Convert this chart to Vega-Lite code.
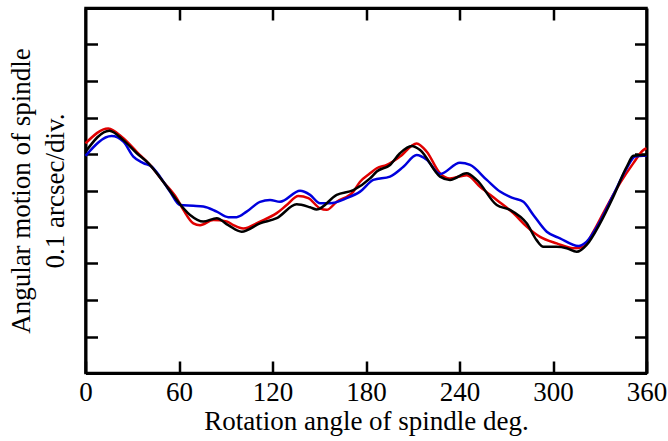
{
  "$schema": "https://vega.github.io/schema/vega-lite/v6.json",
  "width": 561,
  "height": 365,
  "autosize": {"type": "none"},
  "padding": {"left": 85.5, "top": 8, "right": 21.5, "bottom": 68},
  "background": "white",
  "config": {
    "view": {"stroke": "black", "strokeWidth": 2.5},
    "font": "Liberation Serif",
    "axis": {
      "grid": false,
      "domainColor": "black",
      "domainWidth": 3,
      "tickColor": "black",
      "tickWidth": 2.5,
      "tickSize": -12,
      "labelFont": "Liberation Serif",
      "labelFontSize": 27,
      "labelColor": "black",
      "titleFont": "Liberation Serif",
      "titleFontSize": 27,
      "titleFontWeight": "normal",
      "titleColor": "black"
    }
  },
  "data": {"values": [
    {"deg": 0, "v": 6.29, "s": "red"},
    {"deg": 14.6, "v": 6.70, "s": "red"},
    {"deg": 24.3, "v": 6.43, "s": "red"},
    {"deg": 32.9, "v": 6.06, "s": "red"},
    {"deg": 41.4, "v": 5.70, "s": "red"},
    {"deg": 49.9, "v": 5.24, "s": "red"},
    {"deg": 58.5, "v": 4.79, "s": "red"},
    {"deg": 62.8, "v": 4.47, "s": "red"},
    {"deg": 69.2, "v": 4.10, "s": "red"},
    {"deg": 73.5, "v": 4.05, "s": "red"},
    {"deg": 82.0, "v": 4.19, "s": "red"},
    {"deg": 90.6, "v": 4.15, "s": "red"},
    {"deg": 94.9, "v": 4.05, "s": "red"},
    {"deg": 101.3, "v": 3.96, "s": "red"},
    {"deg": 112.0, "v": 4.15, "s": "red"},
    {"deg": 122.7, "v": 4.38, "s": "red"},
    {"deg": 129.1, "v": 4.60, "s": "red"},
    {"deg": 136.6, "v": 4.85, "s": "red"},
    {"deg": 143.0, "v": 4.79, "s": "red"},
    {"deg": 150.5, "v": 4.51, "s": "red"},
    {"deg": 154.8, "v": 4.47, "s": "red"},
    {"deg": 161.2, "v": 4.69, "s": "red"},
    {"deg": 171.9, "v": 4.97, "s": "red"},
    {"deg": 176.2, "v": 5.24, "s": "red"},
    {"deg": 182.6, "v": 5.47, "s": "red"},
    {"deg": 186.9, "v": 5.61, "s": "red"},
    {"deg": 193.3, "v": 5.70, "s": "red"},
    {"deg": 201.8, "v": 5.93, "s": "red"},
    {"deg": 212.5, "v": 6.29, "s": "red"},
    {"deg": 219.0, "v": 6.06, "s": "red"},
    {"deg": 227.5, "v": 5.47, "s": "red"},
    {"deg": 233.9, "v": 5.33, "s": "red"},
    {"deg": 244.6, "v": 5.42, "s": "red"},
    {"deg": 253.2, "v": 5.10, "s": "red"},
    {"deg": 263.9, "v": 4.74, "s": "red"},
    {"deg": 274.5, "v": 4.38, "s": "red"},
    {"deg": 283.1, "v": 4.01, "s": "red"},
    {"deg": 291.7, "v": 3.73, "s": "red"},
    {"deg": 302.4, "v": 3.55, "s": "red"},
    {"deg": 313.0, "v": 3.42, "s": "red"},
    {"deg": 319.5, "v": 3.46, "s": "red"},
    {"deg": 325.9, "v": 3.87, "s": "red"},
    {"deg": 334.5, "v": 4.56, "s": "red"},
    {"deg": 343.0, "v": 5.20, "s": "red"},
    {"deg": 351.6, "v": 5.75, "s": "red"},
    {"deg": 358.0, "v": 6.11, "s": "red"},
    {"deg": 360, "v": 6.16, "s": "red"},

    {"deg": 0, "v": 5.95, "s": "blue"},
    {"deg": 16.8, "v": 6.49, "s": "blue"},
    {"deg": 24.3, "v": 6.34, "s": "blue"},
    {"deg": 30.7, "v": 5.93, "s": "blue"},
    {"deg": 37.1, "v": 5.75, "s": "blue"},
    {"deg": 42.5, "v": 5.65, "s": "blue"},
    {"deg": 47.8, "v": 5.38, "s": "blue"},
    {"deg": 54.2, "v": 4.97, "s": "blue"},
    {"deg": 60.6, "v": 4.60, "s": "blue"},
    {"deg": 69.2, "v": 4.58, "s": "blue"},
    {"deg": 75.6, "v": 4.56, "s": "blue"},
    {"deg": 84.2, "v": 4.42, "s": "blue"},
    {"deg": 91.6, "v": 4.27, "s": "blue"},
    {"deg": 97.0, "v": 4.27, "s": "blue"},
    {"deg": 103.4, "v": 4.42, "s": "blue"},
    {"deg": 112.0, "v": 4.69, "s": "blue"},
    {"deg": 118.4, "v": 4.74, "s": "blue"},
    {"deg": 124.8, "v": 4.69, "s": "blue"},
    {"deg": 137.7, "v": 4.99, "s": "blue"},
    {"deg": 144.1, "v": 4.88, "s": "blue"},
    {"deg": 150.5, "v": 4.65, "s": "blue"},
    {"deg": 156.9, "v": 4.65, "s": "blue"},
    {"deg": 167.6, "v": 4.79, "s": "blue"},
    {"deg": 176.2, "v": 4.97, "s": "blue"},
    {"deg": 184.7, "v": 5.29, "s": "blue"},
    {"deg": 195.4, "v": 5.38, "s": "blue"},
    {"deg": 204.0, "v": 5.65, "s": "blue"},
    {"deg": 212.5, "v": 5.97, "s": "blue"},
    {"deg": 219.0, "v": 5.84, "s": "blue"},
    {"deg": 227.5, "v": 5.45, "s": "blue"},
    {"deg": 240.3, "v": 5.76, "s": "blue"},
    {"deg": 246.8, "v": 5.70, "s": "blue"},
    {"deg": 257.5, "v": 5.29, "s": "blue"},
    {"deg": 266.0, "v": 4.97, "s": "blue"},
    {"deg": 274.5, "v": 4.79, "s": "blue"},
    {"deg": 281.0, "v": 4.69, "s": "blue"},
    {"deg": 287.4, "v": 4.33, "s": "blue"},
    {"deg": 296.0, "v": 3.87, "s": "blue"},
    {"deg": 304.5, "v": 3.69, "s": "blue"},
    {"deg": 316.3, "v": 3.48, "s": "blue"},
    {"deg": 321.6, "v": 3.60, "s": "blue"},
    {"deg": 330.2, "v": 4.15, "s": "blue"},
    {"deg": 338.7, "v": 4.88, "s": "blue"},
    {"deg": 347.3, "v": 5.61, "s": "blue"},
    {"deg": 352.7, "v": 5.93, "s": "blue"},
    {"deg": 358.0, "v": 5.95, "s": "blue"},
    {"deg": 360, "v": 5.95, "s": "blue"},

    {"deg": 0, "v": 6.06, "s": "black"},
    {"deg": 15.3, "v": 6.64, "s": "black"},
    {"deg": 24.3, "v": 6.38, "s": "black"},
    {"deg": 32.9, "v": 6.02, "s": "black"},
    {"deg": 40.3, "v": 5.75, "s": "black"},
    {"deg": 49.9, "v": 5.24, "s": "black"},
    {"deg": 58.5, "v": 4.74, "s": "black"},
    {"deg": 67.1, "v": 4.33, "s": "black"},
    {"deg": 75.6, "v": 4.15, "s": "black"},
    {"deg": 84.2, "v": 4.24, "s": "black"},
    {"deg": 91.6, "v": 4.05, "s": "black"},
    {"deg": 100.2, "v": 3.87, "s": "black"},
    {"deg": 112.0, "v": 4.10, "s": "black"},
    {"deg": 122.7, "v": 4.24, "s": "black"},
    {"deg": 135.5, "v": 4.62, "s": "black"},
    {"deg": 144.1, "v": 4.54, "s": "black"},
    {"deg": 148.4, "v": 4.48, "s": "black"},
    {"deg": 161.2, "v": 4.88, "s": "black"},
    {"deg": 171.9, "v": 5.01, "s": "black"},
    {"deg": 182.6, "v": 5.33, "s": "black"},
    {"deg": 186.9, "v": 5.52, "s": "black"},
    {"deg": 195.4, "v": 5.70, "s": "black"},
    {"deg": 201.8, "v": 6.02, "s": "black"},
    {"deg": 209.3, "v": 6.22, "s": "black"},
    {"deg": 214.7, "v": 6.11, "s": "black"},
    {"deg": 227.5, "v": 5.38, "s": "black"},
    {"deg": 233.9, "v": 5.29, "s": "black"},
    {"deg": 244.6, "v": 5.47, "s": "black"},
    {"deg": 251.0, "v": 5.29, "s": "black"},
    {"deg": 263.9, "v": 4.60, "s": "black"},
    {"deg": 272.4, "v": 4.47, "s": "black"},
    {"deg": 283.1, "v": 4.10, "s": "black"},
    {"deg": 289.5, "v": 3.64, "s": "black"},
    {"deg": 293.8, "v": 3.46, "s": "black"},
    {"deg": 302.4, "v": 3.46, "s": "black"},
    {"deg": 308.8, "v": 3.42, "s": "black"},
    {"deg": 315.2, "v": 3.32, "s": "black"},
    {"deg": 321.6, "v": 3.51, "s": "black"},
    {"deg": 330.2, "v": 4.10, "s": "black"},
    {"deg": 338.7, "v": 4.83, "s": "black"},
    {"deg": 347.3, "v": 5.65, "s": "black"},
    {"deg": 351.6, "v": 5.95, "s": "black"},
    {"deg": 358.0, "v": 5.97, "s": "black"},
    {"deg": 360, "v": 5.97, "s": "black"}
  ]},
  "layer": [
    {
      "mark": {"type": "line", "interpolate": "monotone", "strokeWidth": 2.5},
      "encoding": {
        "x": {"field": "deg", "type": "quantitative",
              "scale": {"domain": [0, 360], "nice": false, "zero": false},
              "axis": {"orient": "bottom", "values": [0, 60, 120, 180, 240, 300, 360],
                       "title": "Rotation angle of spindle deg.", "labelPadding": 18, "titlePadding": 3,
                       "labelFlush": false}},
        "y": {"field": "v", "type": "quantitative",
              "scale": {"domain": [0, 10], "nice": false, "zero": false},
              "axis": {"orient": "left", "values": [1, 2, 3, 4, 5, 6, 7, 8, 9],
                       "labels": false, "title": ["Angular motion of spindle", "0.1 arcsec/div."],
                       "titleLineHeight": 34, "titlePadding": 15}},
        "color": {"field": "s", "type": "nominal",
                  "scale": {"domain": ["red", "blue", "black"], "range": ["#e00000", "#0000dd", "#000000"]},
                  "legend": null},
        "order": {"field": "deg", "type": "quantitative"}
      }
    },
    {
      "mark": {"type": "line", "strokeOpacity": 0},
      "encoding": {
        "x": {"field": "deg", "type": "quantitative",
              "axis": {"orient": "top", "values": [60, 120, 180, 240, 300], "labels": false, "title": null}},
        "y": {"field": "v", "type": "quantitative",
              "axis": {"orient": "right", "values": [1, 2, 3, 4, 5, 6, 7, 8, 9], "labels": false, "title": null}},
        "detail": {"field": "s"}
      }
    }
  ],
  "resolve": {"axis": {"x": "independent", "y": "independent"}}
}
